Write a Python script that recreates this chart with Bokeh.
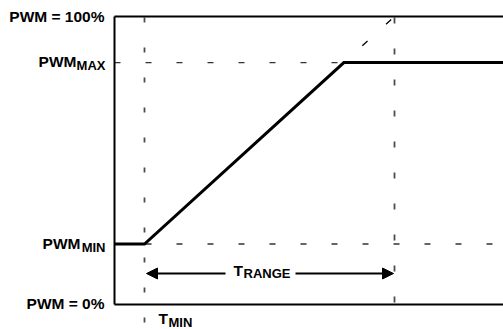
from bokeh.plotting import figure
from bokeh.models import Range1d, ColumnDataSource, Arrow, NormalHead
from bokeh.core.properties import value
from bokeh.embed import file_html
from bokeh.resources import INLINE

# ---- data (conceptual fan-control curve) ----
T_MIN = 30          # temperature where the ramp starts (arbitrary units)
T_RANGE = 250       # temperature span from PWM_MIN to 100 %
PWM_MIN = 21        # % duty cycle
PWM_MAX = 84        # % duty cycle
PWM_FULL = 100
PWM_ZERO = 0
X_END = 389         # right end of the drawing (arbitrary units)

left_labels = ["PWM = 100%", "PWM", "PWM", "PWM = 0%"]
left_label_y = [PWM_FULL, PWM_MAX, PWM_MIN, PWM_ZERO]
sub_labels = ["MAX", "MIN"]
sub_label_y = [PWM_MAX, PWM_MIN]

# ---- derived ----
T_END = T_MIN + T_RANGE
slope = (PWM_FULL - PWM_MIN) / T_RANGE
T_HIT = T_MIN + (PWM_MAX - PWM_MIN) / slope

FONT = value("Liberation Sans")

Y_LO, Y_HI = -8.68, 105.56

p = figure(width=503, height=329, output_backend="svg", toolbar_location=None,
           x_range=Range1d(-114, X_END), y_range=Range1d(Y_LO, Y_HI),
           min_border=0, outline_line_color=None)
p.axis.visible = False
p.grid.visible = False

DASH_C = "#333333"

# horizontal dashed reference lines
p.line([0, T_HIT], [PWM_MAX, PWM_MAX], line_color=DASH_C, line_width=1.4, line_dash="6 25")
p.line([0, X_END], [PWM_MIN, PWM_MIN], line_color=DASH_C, line_width=1.4, line_dash="6 25")

# vertical dashed lines
p.line([T_MIN, T_MIN], [PWM_FULL - 0.3, Y_LO], line_color="#4d4d4d", line_width=1.8, line_dash="5 25")
p.line([T_END, T_END], [PWM_FULL - 0.3, -1.6], line_color="#4d4d4d", line_width=1.8, line_dash="6 25")

# dashed extension of the ramp to 100 %
p.line([T_HIT, T_END], [PWM_MAX, PWM_FULL], line_color="black", line_width=1.3,
       line_dash="7 25", line_dash_offset=7)

# frame lines
p.line([0, 0], [PWM_ZERO, PWM_FULL], line_color="black", line_width=2)
p.line([0, X_END + 1], [PWM_ZERO, PWM_ZERO], line_color="black", line_width=2)
p.line([0, X_END + 1], [PWM_FULL, PWM_FULL], line_color="black", line_width=2)

# the PWM curve
p.line([0, T_MIN, T_HIT, X_END + 1], [PWM_MIN, PWM_MIN, PWM_MAX, PWM_MAX],
       line_color="black", line_width=3, line_join="miter")

# T_RANGE arrows
ARROW_Y = 10.76
mid = T_MIN + T_RANGE / 2
p.add_layout(Arrow(end=NormalHead(size=11, fill_color="black", line_color="black"),
                   x_start=mid - 44, y_start=ARROW_Y, x_end=T_MIN + 2, y_end=ARROW_Y,
                   line_width=2, line_color="black"))
p.add_layout(Arrow(end=NormalHead(size=11, fill_color="black", line_color="black"),
                   x_start=mid + 26, y_start=ARROW_Y, x_end=T_END - 1, y_end=ARROW_Y,
                   line_width=2, line_color="black"))

# left labels
src_main = ColumnDataSource(dict(x=[0] * 4, y=left_label_y, t=left_labels,
                                 xo=[-10, -38, -34, -10], yo=[0, -1, -1, -1]))
p.text(x="x", y="y", text="t", source=src_main, x_offset="xo", y_offset="yo",
       text_align="right", text_baseline="alphabetic", text_font=FONT,
       text_font_style="bold", text_font_size="15.5px", text_color="black")
src_sub = ColumnDataSource(dict(x=[0] * 2, y=sub_label_y, t=sub_labels,
                                xo=[-9, -9], yo=[3, 3]))
p.text(x="x", y="y", text="t", source=src_sub, x_offset="xo", y_offset="yo",
       text_align="right", text_baseline="alphabetic", text_font=FONT,
       text_font_style="bold", text_font_size="13px", text_color="black")

# T labels
src_t = ColumnDataSource(dict(x=[T_MIN, mid], y=[PWM_ZERO, ARROW_Y], t=["T", "T"],
                              xo=[14, -36], yo=[14, -3]))
p.text(x="x", y="y", text="t", source=src_t, x_offset="xo", y_offset="yo",
       text_align="left", text_baseline="alphabetic", text_font=FONT,
       text_font_style="bold", text_font_size="15.5px", text_color="black")
src_ts = ColumnDataSource(dict(x=[T_MIN, mid], y=[PWM_ZERO, ARROW_Y], t=["MIN", "RANGE"],
                               xo=[24, -26], yo=[18, 0]))
p.text(x="x", y="y", text="t", source=src_ts, x_offset="xo", y_offset="yo",
       text_align="left", text_baseline="alphabetic", text_font=FONT,
       text_font_style="bold", text_font_size="13px", text_color="black")

open("out.html", "w").write(file_html(p, INLINE))
